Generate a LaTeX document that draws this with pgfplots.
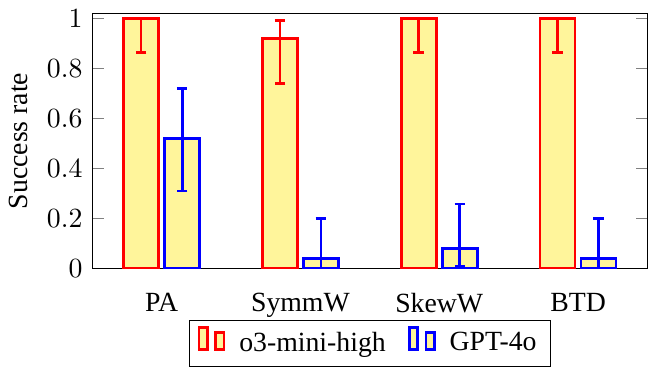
\documentclass[border=0pt]{standalone}
\usepackage{pgfplots}
\pgfplotsset{compat=1.18}
\usepackage{fontspec}
\setmainfont{Liberation Serif}
\definecolor{barfill}{RGB}{255,245,155}
\begin{document}
\begin{tikzpicture}
\begin{axis}[
  scale only axis,
  width=200pt, height=92pt,
  ybar=2.2pt, bar width=12.6pt,
  xmin=-0.5, xmax=3.5,
  ymin=0, ymax=1.02,
  xtick={0,1,2,3},
  xticklabels={PA,SymmW,SkewW,BTD},
  x tick label style={yshift=-1pt},
  xtick style={draw=none},
  ytick={0,0.2,0.4,0.6,0.8,1},
  ylabel={Success rate},
  legend style={at={(0.5,-0.2)}, anchor=north, legend columns=2,
    /tikz/every odd column/.append style={column sep=3pt},
    /tikz/every even column/.append style={column sep=6pt}},
]
\addplot[draw=red, fill=barfill, line width=1pt,
  error bars/.cd, y dir=both, y explicit,
  error bar style={red, line width=1pt},
  error mark options={rotate=90, mark size=1.9pt, red, line width=1pt}]
  coordinates {
    (0,1) -= (0,0.138) += (0,0)
    (1,0.92) -= (0,0.181) += (0,0.072)
    (2,1) -= (0,0.138) += (0,0)
    (3,1) -= (0,0.138) += (0,0)
  };
\addplot[draw=blue, fill=barfill, line width=1pt,
  error bars/.cd, y dir=both, y explicit,
  error bar style={blue, line width=1pt},
  error mark options={rotate=90, mark size=1.9pt, blue, line width=1pt}]
  coordinates {
    (0,0.52) -= (0,0.21) += (0,0.20)
    (1,0.04) -= (0,0.04) += (0,0.16)
    (2,0.08) -= (0,0.07) += (0,0.178)
    (3,0.04) -= (0,0.04) += (0,0.16)
  };
\legend{o3-mini-high, GPT-4o}
\end{axis}
\end{tikzpicture}
\end{document}
